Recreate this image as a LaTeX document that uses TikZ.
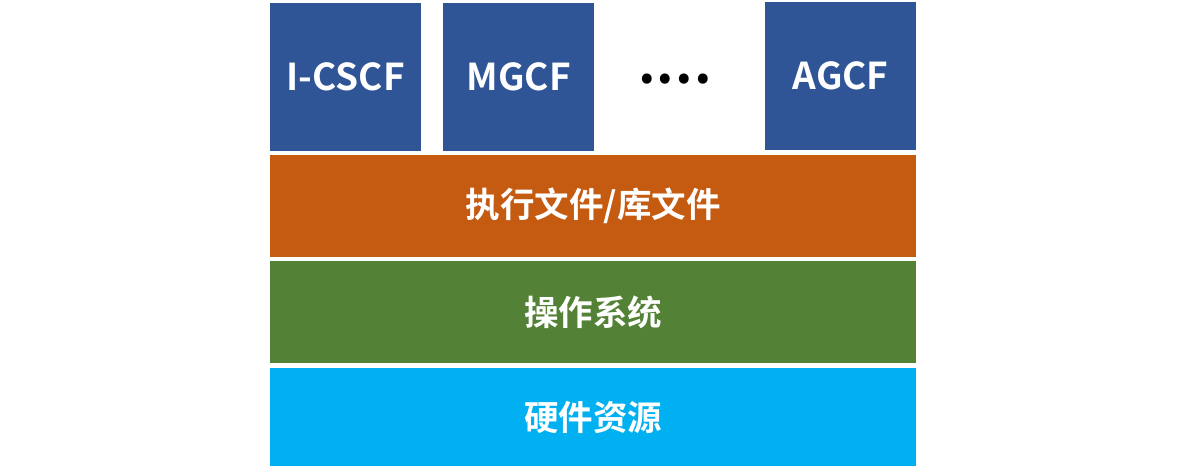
\documentclass[tikz,border=0pt]{standalone}
\usepackage{fontspec}
\setmainfont{Noto Sans CJK SC}[BoldFont={* Bold}]
\definecolor{nfblue}{HTML}{2F5597}
\definecolor{execorange}{HTML}{C55A11}
\definecolor{osgreen}{HTML}{538135}
\definecolor{hwblue}{HTML}{00B0F0}
\tikzset{
    nfbox/.style={fill=nfblue,text=white,anchor=north west,minimum width=151pt,
        minimum height=148pt,inner sep=0pt,font=\bfseries\fontsize{37}{42}\selectfont},
    layerbox/.style={text=white,anchor=north west,minimum width=646pt,
        minimum height=102pt,inner sep=0pt,font=\bfseries\fontsize{34.5}{40}\selectfont}
}
\begin{document}
\begin{tikzpicture}[x=1pt,y=1pt]
    \useasboundingbox (0,0) rectangle (1179,-468);
    % network functions
    \node[nfbox] (icscf) at (270,-3) {I-CSCF};
    \node[nfbox] (mgcf) at (443,-3) {MGCF};
    \node[nfbox] (agcf) at (765,-2) {AGCF};
    \node[font=\bfseries\fontsize{54}{54}\selectfont,inner sep=0pt] (dots) at (675,-79)
        {.\hspace{1pt}.\hspace{1pt}.\hspace{1pt}.};
    % layers
    \node[layerbox,fill=execorange] (exec) at (270,-155) {执行文件/库文件};
    \node[layerbox,fill=osgreen] (os) at (270,-261) {操作系统};
    \node[layerbox,fill=hwblue,minimum height=98pt] (hw) at (270,-368) {硬件资源};
\end{tikzpicture}
\end{document}
